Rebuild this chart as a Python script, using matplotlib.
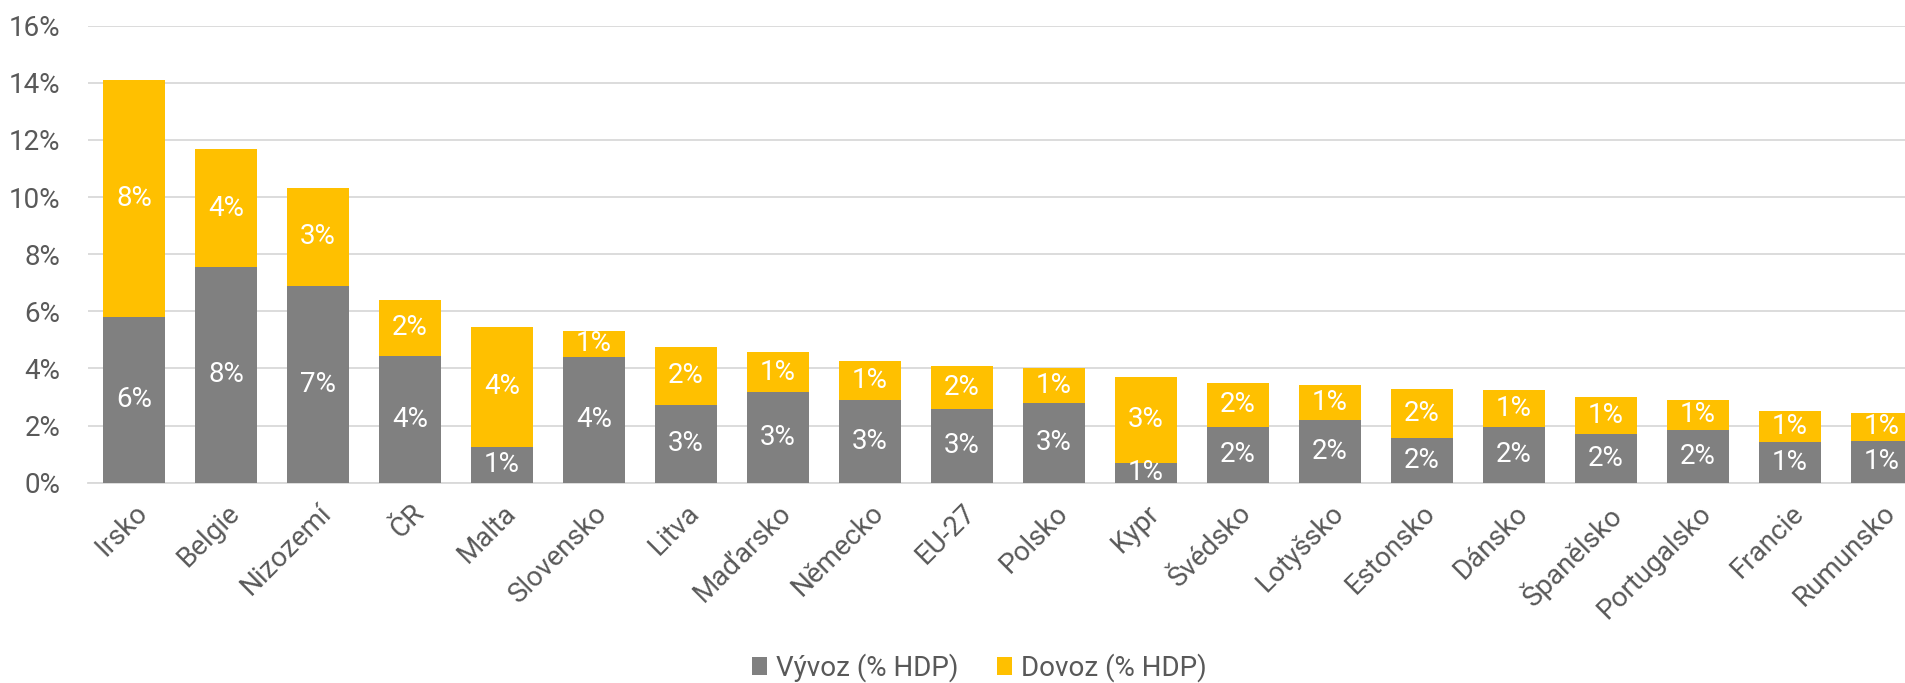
import matplotlib
matplotlib.use("Agg")
import matplotlib.pyplot as plt
import numpy as np

plt.rcParams['font.family'] = ['Roboto', 'DejaVu Sans']

# data (% of GDP)
zeme = ['Irsko', 'Belgie', 'Nizozemí', 'ČR', 'Malta', 'Slovensko', 'Litva',
        'Maďarsko', 'Německo', 'EU-27', 'Polsko', 'Kypr', 'Švédsko',
        'Lotyšsko', 'Estonsko', 'Dánsko', 'Španělsko', 'Portugalsko',
        'Francie', 'Rumunsko']
vyvoz = [5.80, 7.55, 6.90, 4.45, 1.26, 4.40, 2.73, 3.17, 2.91, 2.57, 2.80,
         0.70, 1.96, 2.19, 1.57, 1.96, 1.72, 1.85, 1.44, 1.47]
dovoz = [8.30, 4.13, 3.41, 1.95, 4.18, 0.92, 2.01, 1.40, 1.35, 1.52, 1.20,
         3.00, 1.53, 1.24, 1.70, 1.30, 1.28, 1.05, 1.07, 0.97]
y_ticks = [0, 2, 4, 6, 8, 10, 12, 14, 16]

SEDA = '#808080'
ZLUTA = '#FFC000'
TEXT = '#595959'
GRID = '#D9D9D9'

fig = plt.figure(figsize=(19.05, 6.83), dpi=100)
ax = fig.add_axes([0.0462, 0.2933, 0.9659, 0.6691])

x = np.arange(len(zeme))
w = 0.674
b1 = ax.bar(x, vyvoz, w, color=SEDA, label='Vývoz (% HDP)', zorder=3)
b2 = ax.bar(x, dovoz, w, bottom=vyvoz, color=ZLUTA, label='Dovoz (% HDP)', zorder=3)

# popisky uvnitr segmentu
for i in range(len(zeme)):
    ax.text(x[i], vyvoz[i] / 2, f'{vyvoz[i]:.0f}%', ha='center', va='center',
            color='white', fontsize=20, zorder=4, clip_on=True)
    ax.text(x[i], vyvoz[i] + dovoz[i] / 2, f'{dovoz[i]:.0f}%', ha='center',
            va='center', color='white', fontsize=20, zorder=4, clip_on=True)

ax.set_xlim(-0.5, len(zeme) - 0.5)
ax.set_ylim(0, 16)
ax.set_yticks(y_ticks)
ax.set_yticklabels([f'{t}%' for t in y_ticks])
ax.set_xticks(x)
ax.set_xticklabels(zeme, rotation=45, ha='right', rotation_mode='anchor')
ax.tick_params(axis='both', length=0, colors=TEXT, labelsize=20)
ax.tick_params(axis='y', pad=20)
ax.tick_params(axis='x', pad=12)
ax.grid(axis='y', color=GRID, linewidth=1.3, zorder=0)
for s in ['top', 'right', 'left']:
    ax.spines[s].set_visible(False)
ax.spines['bottom'].set_color(GRID)
ax.spines['bottom'].set_linewidth(1.3)

leg = fig.legend(handles=[b1, b2], loc='center', bbox_to_anchor=(0.514, 0.022),
                 ncol=2, frameon=False, fontsize=20, handlelength=0.55,
                 handleheight=0.6, handletextpad=0.3, columnspacing=1.4)
for t in leg.get_texts():
    t.set_color(TEXT)

fig.savefig('out.png', dpi=100)
